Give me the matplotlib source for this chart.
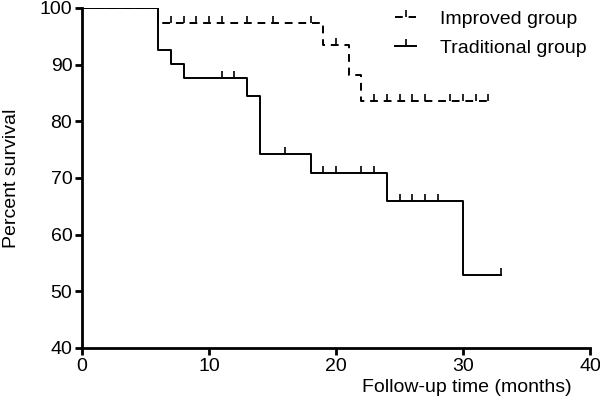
import matplotlib.pyplot as plt

plt.rcParams['font.family'] = ['Liberation Sans', 'DejaVu Sans']

# Kaplan-Meier steps (time in months, percent survival)
improved_times = [0, 6, 19, 21, 22, 32]
improved_surv = [100, 97.3, 93.4, 88.2, 83.5, 83.5]
improved_censor = [7, 8, 9, 10, 11, 13, 15, 18, 20, 23, 24, 25, 26, 27, 29, 30, 31, 32]

traditional_times = [0, 6, 7, 8, 13, 14, 18, 24, 30, 33]
traditional_surv = [100, 92.6, 90.2, 87.6, 84.4, 74.2, 70.8, 66.0, 52.8, 52.8]
traditional_censor = [11, 12, 16, 19, 20, 22, 23, 25, 26, 27, 28, 33]

x_ticks = [0, 10, 20, 30, 40]
y_ticks = [40, 50, 60, 70, 80, 90, 100]


def surv_at(times, surv, t):
    # value of the step function at time t
    val = surv[0]
    for tt, s in zip(times, surv):
        if tt <= t:
            val = s
    return val


tick_marker = [(0, 0), (0, 1)]

fig = plt.figure(figsize=(6, 4.04), dpi=100)
ax = fig.add_axes([82 / 600, 1 - 348 / 404, 508 / 600, 340 / 404])

ax.step(traditional_times, traditional_surv, where='post', color='black', lw=1.4)
ax.plot(traditional_censor, [surv_at(traditional_times, traditional_surv, t) for t in traditional_censor],
        ls='none', marker=tick_marker, ms=10, mew=1.2, color='black')

ax.step(improved_times, improved_surv, where='post', color='black', lw=1.4, dashes=(4, 3))
ax.plot(improved_censor, [surv_at(improved_times, improved_surv, t) for t in improved_censor],
        ls='none', marker=tick_marker, ms=10, mew=1.2, color='black')

h1, = ax.plot([], [], color='black', lw=1.4, dashes=(4, 3), marker=tick_marker, ms=10, mew=1.2)
h2, = ax.plot([], [], color='black', lw=1.4, marker=tick_marker, ms=10, mew=1.2)
ax.legend([h1, h2], ['Improved group', 'Traditional group'], frameon=False, fontsize=14,
          loc='upper right', bbox_to_anchor=(1.008, 1.016), handlelength=1.1, numpoints=1,
          handletextpad=1.2, labelspacing=0.6, borderaxespad=0)

ax.set_xlim(0, 40)
ax.set_ylim(40, 100)
ax.set_xticks(x_ticks)
ax.set_yticks(y_ticks)
ax.tick_params(labelsize=14, width=2, length=5, direction='out', color='black', pad=2)
for side in ['top', 'right']:
    ax.spines[side].set_visible(False)
for side in ['left', 'bottom']:
    ax.spines[side].set_linewidth(2)

ax.set_ylabel('Percent survival', fontsize=14)
ax.yaxis.set_label_coords(-0.122, 0.5)
ax.set_xlabel('Follow-up time (months)', fontsize=14)
ax.xaxis.set_label_coords(0.758, -0.09)

fig.savefig('out.png', dpi=100)
